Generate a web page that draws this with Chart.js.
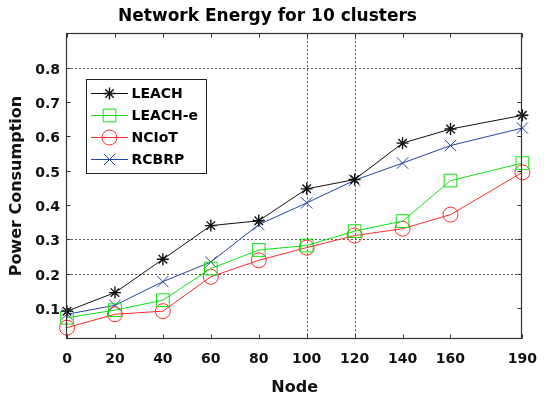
<!DOCTYPE html>
<html>
<head>
<meta charset="utf-8">
<script src="https://cdn.jsdelivr.net/npm/chart.js@4/dist/chart.umd.min.js"></script>
<style>
  html, body { margin: 0; padding: 0; background: #fff; }
  #wrap { width: 549px; height: 396px; }
</style>
</head>
<body>
<div id="wrap"><canvas id="c" width="549" height="396"></canvas></div>
<script>
// Network size (number of nodes) and power consumption per protocol
const nodes  = [0, 20, 40, 60, 80, 100, 120, 140, 160, 190];
const leach  = [0.091, 0.145, 0.242, 0.340, 0.354, 0.447, 0.474, 0.580, 0.621, 0.661];
const leachE = [0.072, 0.094, 0.123, 0.215, 0.269, 0.282, 0.324, 0.353, 0.471, 0.522];
const nciot  = [0.043, 0.082, 0.091, 0.191, 0.239, 0.276, 0.311, 0.331, 0.372, 0.495];
const rcbrp  = [0.082, 0.108, 0.177, 0.234, 0.343, 0.406, 0.472, 0.522, 0.573, 0.624];

const xTicks = [0, 20, 40, 60, 80, 100, 120, 140, 160, 190];
const xTickLabels = ['0', '20', '40', '60', '80', '100', '120', '140', '160', '190'];
const yTicks = [0.1, 0.2, 0.3, 0.4, 0.5, 0.6, 0.7, 0.8];
const yTickLabels = ['0.1', '0.2', '0.3', '0.4', '0.5', '0.6', '0.7', '0.8'];
const xGrid = [100, 120];
const yGrid = [0.2, 0.3, 0.8];

const FONT = "'DejaVu Sans', 'Liberation Sans', Arial, sans-serif";

const toPoints = vals => nodes.map((n, i) => ({ x: n, y: vals[i] }));

function series(label, vals, color, style, radius, markerWidth) {
  return {
    label, data: toPoints(vals),
    borderColor: color, backgroundColor: 'rgba(0,0,0,0)',
    borderWidth: 1, tension: 0,
    pointStyle: style, pointRadius: radius, pointHoverRadius: radius,
    pointBorderColor: color, pointBackgroundColor: 'rgba(0,0,0,0)',
    pointBorderWidth: markerWidth, clip: false
  };
}

// Draws a marker shape for the legend
function marker(ctx, style, r, x, y, bw) {
  if (Chart.helpers && Chart.helpers.drawPoint) {
    ctx.lineWidth = bw;
    Chart.helpers.drawPoint(ctx, { pointStyle: style, radius: r, rotation: 0, borderWidth: bw }, x, y);
    return;
  }
  ctx.lineWidth = bw;
  ctx.beginPath();
  if (style === 'circle') ctx.arc(x, y, r, 0, Math.PI * 2);
  else if (style === 'rect') { const s = r * Math.SQRT1_2; ctx.rect(x - s, y - s, 2 * s, 2 * s); }
  else {
    const d = r * Math.SQRT1_2;
    ctx.moveTo(x - d, y - d); ctx.lineTo(x + d, y + d);
    ctx.moveTo(x - d, y + d); ctx.lineTo(x + d, y - d);
    if (style === 'star') { ctx.moveTo(x - r, y); ctx.lineTo(x + r, y); ctx.moveTo(x, y - r); ctx.lineTo(x, y + r); }
  }
  ctx.stroke();
}

// Partial dotted grid, boxed axes with inward ticks, and the boxed legend
const axesBox = {
  id: 'axesBox',
  beforeDatasetsDraw(chart) {
    const { ctx, chartArea: a, scales: { x, y } } = chart;
    ctx.save();
    ctx.strokeStyle = '#555';
    ctx.lineWidth = 1;
    ctx.setLineDash([2, 2]);
    xGrid.forEach(v => {
      const px = Math.round(x.getPixelForValue(v)) + 0.5;
      ctx.beginPath(); ctx.moveTo(px, a.top); ctx.lineTo(px, a.bottom); ctx.stroke();
    });
    yGrid.forEach(v => {
      const py = Math.round(y.getPixelForValue(v)) + 0.5;
      ctx.beginPath(); ctx.moveTo(a.left, py); ctx.lineTo(a.right, py); ctx.stroke();
    });
    ctx.restore();
  },
  afterDatasetsDraw(chart) {
    const { ctx, chartArea: a, scales: { x, y } } = chart;
    const L = Math.round(a.left) - 0.5, R = Math.round(a.right) - 0.5;
    const T = Math.round(a.top) + 0.5, B = Math.round(a.bottom) - 0.5;
    ctx.save();
    ctx.strokeStyle = '#333';
    ctx.lineWidth = 1.2;
    ctx.strokeRect(L, T, R - L, B - T);
    ctx.lineWidth = 1;
    const tl = 4;
    ctx.beginPath();
    xTicks.forEach(v => {
      const px = Math.round(x.getPixelForValue(v)) + 0.5;
      ctx.moveTo(px, B); ctx.lineTo(px, B - tl);
      ctx.moveTo(px, T); ctx.lineTo(px, T + tl);
    });
    yTicks.forEach(v => {
      const py = Math.round(y.getPixelForValue(v)) + 0.5;
      ctx.moveTo(L, py); ctx.lineTo(L + tl, py);
      ctx.moveTo(R, py); ctx.lineTo(R - tl, py);
    });
    ctx.stroke();

    // legend
    const bx = 86.5, by = 79.5, bw = 120, bh = 94;
    ctx.fillStyle = '#fff';
    ctx.fillRect(bx, by, bw, bh);
    ctx.strokeStyle = '#222';
    ctx.strokeRect(bx, by, bw, bh);
    ctx.font = 'bold 14px ' + FONT;
    ctx.textBaseline = 'middle';
    ctx.textAlign = 'left';
    chart.data.datasets.forEach((ds, i) => {
      const ry = 93.5 + i * 22;
      ctx.strokeStyle = ds.borderColor;
      ctx.lineWidth = 1;
      ctx.beginPath(); ctx.moveTo(91, ry); ctx.lineTo(128, ry); ctx.stroke();
      ctx.fillStyle = 'rgba(0,0,0,0)';
      marker(ctx, ds.pointStyle, ds.pointRadius, 109.5, ry, ds.pointBorderWidth);
      ctx.fillStyle = '#000';
      ctx.fillText(ds.label, 131.5, ry + 0.5);
    });
    ctx.restore();
  }
};

new Chart(document.getElementById('c'), {
  type: 'line',
  data: {
    datasets: [
      series('LEACH',   leach,  '#111111', 'star',     6,   1.4),
      series('LEACH-e', leachE, '#10e010', 'rect',     9,   1),
      series('NCIoT',   nciot,  '#ff2a2a', 'circle',   7.5, 1),
      series('RCBRP',   rcbrp,  '#2443a3', 'crossRot', 8,   1)
    ]
  },
  options: {
    responsive: false,
    animation: false,
    devicePixelRatio: 1,
    layout: { padding: { left: 0, right: 14, top: 0, bottom: 0 } },
    plugins: {
      legend: { display: false },
      tooltip: { enabled: false },
      title: {
        display: true,
        text: 'Network Energy for 10 clusters',
        color: '#000',
        font: { family: FONT, size: 17, weight: 'bold', lineHeight: 1.2 },
        padding: { top: 6.8, bottom: 6 }
      }
    },
    scales: {
      x: {
        type: 'linear', min: 0, max: 190,
        afterBuildTicks: s => { s.ticks = xTicks.map(v => ({ value: v })); },
        afterFit: s => { s.height = 57; },
        grid: { display: false, drawTicks: false },
        border: { display: false },
        ticks: {
          callback: (v, i) => xTickLabels[i],
          color: '#111', padding: 12, maxRotation: 0, autoSkip: false,
          font: { family: FONT, size: 14, weight: 'bold' }
        },
        title: {
          display: true, text: 'Node', color: '#111',
          font: { family: FONT, size: 16, weight: 'bold', lineHeight: 1 },
          padding: 0
        }
      },
      y: {
        type: 'linear', min: 0.01, max: 0.9,
        afterBuildTicks: s => { s.ticks = yTicks.map(v => ({ value: v })); },
        afterFit: s => { s.width = 67; },
        grid: { display: false, drawTicks: false },
        border: { display: false },
        ticks: {
          callback: (v, i) => yTickLabels[i],
          color: '#111', padding: 7, labelOffset: 2.5, autoSkip: false,
          font: { family: FONT, size: 14, weight: 'bold' }
        },
        title: {
          display: true, text: 'Power Consumption', color: '#111',
          font: { family: FONT, size: 16, weight: 'bold', lineHeight: 1.2 },
          padding: { top: 7, bottom: 0 }
        }
      }
    }
  },
  plugins: [axesBox]
});
</script>
</body>
</html>
